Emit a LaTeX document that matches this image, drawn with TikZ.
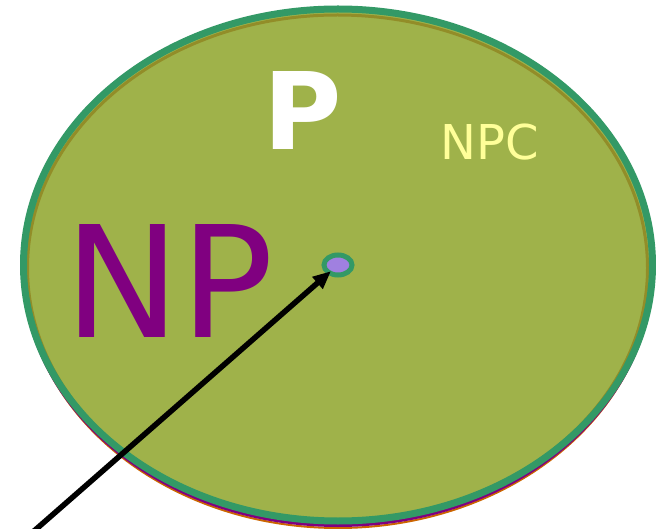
\documentclass[tikz,border=0pt]{standalone}
\usepackage{fontspec}
\setmainfont{DejaVu Sans}
\usetikzlibrary{shapes.geometric,arrows.meta}
\definecolor{setfill}{HTML}{9FB24A}
\definecolor{setteal}{HTML}{339966}
\definecolor{setolive}{HTML}{928D28}
\definecolor{setpurple}{HTML}{800080}
\definecolor{setorange}{HTML}{CC6600}
\definecolor{setlav}{HTML}{A080E0}
\definecolor{npcyellow}{HTML}{FFFF99}
\tikzset{
  ring/.style={draw, fill=none},
  lbl/.style={inner sep=0pt, anchor=center},
  pointer/.style={line width=5.5pt, -{Triangle[length=18pt,width=15pt]}, shorten >=-5pt}
}
\begin{document}
\begin{tikzpicture}[x=1pt,y=-1pt]
  \clip (0,0) rectangle (656,529);
  \fill[white] (0,0) rectangle (656,529);
  % stacked set outlines
  \draw[ring, setorange, line width=2pt] (338,270) ellipse [x radius=314pt, y radius=258pt];
  \draw[ring, setpurple, line width=3pt] (338,267.5) ellipse [x radius=315pt, y radius=258pt];
  \fill[setfill] (338,265) ellipse [x radius=314.5pt, y radius=256pt];
  \draw[ring, setolive, line width=3pt] (337.5,268) ellipse [x radius=310pt, y radius=253pt];
  \draw[ring, setteal, line width=7pt] (338,265) ellipse [x radius=314.5pt, y radius=256pt];
  % labels
  \node[lbl, text=white] (p) at (303,111) {\fontsize{107}{107}\selectfont\bfseries P};
  \node[lbl, text=npcyellow] (npc) at (490,142) {\fontsize{48}{48}\selectfont NPC};
  \node[lbl, text=setpurple] (np) at (169,281) {\fontsize{155}{155}\selectfont NP};
  % the tiny inner set
  \node[ellipse, draw=setteal, fill=setlav, line width=5pt, inner sep=0pt,
        minimum width=28pt, minimum height=20pt] (dot) at (338,265) {};
  \coordinate (start) at (34,531);
  \draw[pointer] (start) -- (dot);
\end{tikzpicture}
\end{document}
